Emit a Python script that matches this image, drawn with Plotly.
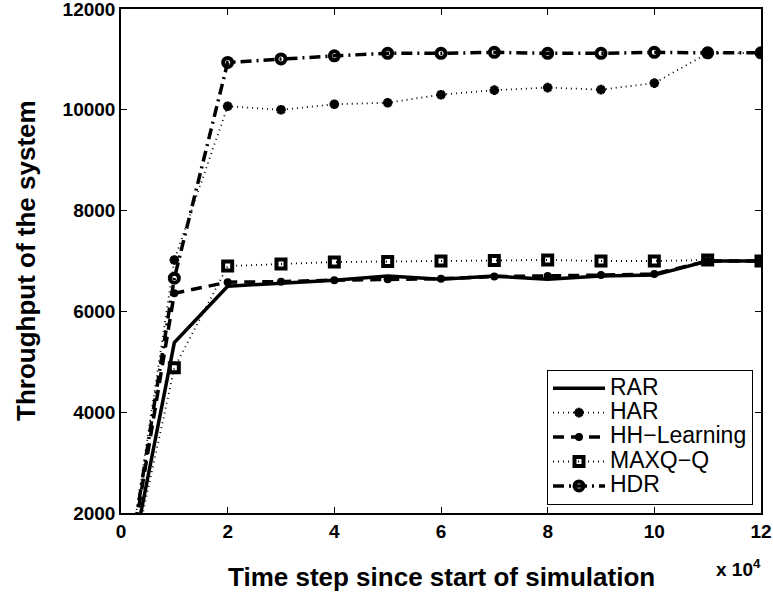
import plotly.graph_objects as go

x_steps = [0, 1, 2, 3, 4, 5, 6, 7, 8, 9, 10, 11, 12]
rar = [0, 5380, 6500, 6560, 6620, 6700, 6640, 6700, 6640, 6700, 6720, 7000, 7000]
har = [0, 7020, 10070, 10000, 10110, 10140, 10300, 10390, 10440, 10400, 10530, 11120, 11130]
hh = [0, 6360, 6580, 6590, 6620, 6640, 6650, 6690, 6700, 6720, 6740, 7000, 7000]
maxq = [0, 4880, 6900, 6940, 6980, 6990, 7000, 7010, 7020, 7000, 7000, 7020, 7000]
hdr = [0, 6660, 10940, 11010, 11070, 11120, 11120, 11140, 11120, 11120, 11140, 11130, 11130]

names = ["RAR", "HAR", "HH\u2212Learning", "MAXQ\u2212Q", "HDR"]
x_ticks = [0, 2, 4, 6, 8, 10, 12]
x_ticklabels = ["0", "2", "4", "6", "8", "10", "12"]
y_ticks = [2000, 4000, 6000, 8000, 10000, 12000]
y_ticklabels = ["2000", "4000", "6000", "8000", "10000", "12000"]

FONT = "Liberation Sans, Arial, Helvetica, sans-serif"


def legend_name(s):
    return '<span style="font-size:23px">' + s + "</span>"


fig = go.Figure()
fig.add_trace(go.Scatter(x=x_steps, y=rar, name=legend_name(names[0]), mode="lines",
                         line=dict(color="black", width=3.5, dash="solid")))
fig.add_trace(go.Scatter(x=x_steps, y=har, name=legend_name(names[1]), mode="lines+markers",
                         line=dict(color="black", width=1.8, dash="1px,4px"),
                         marker=dict(symbol="asterisk-open", size=8, color="black",
                                     line=dict(width=3, color="black"))))
fig.add_trace(go.Scatter(x=x_steps, y=hh, name=legend_name(names[2]), mode="lines+markers",
                         line=dict(color="black", width=3.5, dash="11px,7px"),
                         marker=dict(symbol="circle", size=8, color="black")))
fig.add_trace(go.Scatter(x=x_steps, y=maxq, name=legend_name(names[3]), mode="lines+markers",
                         line=dict(color="black", width=1.8, dash="1px,4px"),
                         marker=dict(symbol="square-open", size=9, color="black",
                                     line=dict(width=4, color="black"))))
fig.add_trace(go.Scatter(x=x_steps, y=hdr, name=legend_name(names[4]), mode="lines+markers",
                         line=dict(color="black", width=3.5, dash="11px,5px,2px,5px"),
                         marker=dict(symbol="circle-open", size=9, color="black",
                                     line=dict(width=4, color="black"))))

axis_common = dict(showline=True, linecolor="black", linewidth=1.5, mirror="ticks",
                   ticks="inside", ticklen=6, tickcolor="black", tickwidth=1,
                   showgrid=False, zeroline=False, ticklabeloverflow="allow",
                   automargin=False)

fig.update_xaxes(range=[0, 12], tickvals=x_ticks, ticktext=x_ticklabels,
                 tickfont=dict(family=FONT, size=19, color="black", weight="bold"),
                 **axis_common)
fig.update_yaxes(range=[2000, 12000], tickvals=y_ticks, ticktext=y_ticklabels,
                 tickfont=dict(family=FONT, size=19, color="black", weight="bold"),
                 **axis_common)

fig.add_annotation(xref="paper", yref="paper", x=0.5, y=0, yshift=-64,
                   xanchor="center", yanchor="middle", showarrow=False,
                   text="Time step since start of simulation",
                   font=dict(family=FONT, size=26, color="black", weight="bold"))
fig.add_annotation(xref="paper", yref="paper", x=0, y=0.5, xshift=-95,
                   xanchor="center", yanchor="middle", showarrow=False, textangle=-90,
                   text="Throughput of the system",
                   font=dict(family=FONT, size=26, color="black", weight="bold"))
fig.add_annotation(xref="paper", yref="paper", x=1.0, y=0, yshift=-55, xshift=-23,
                   xanchor="center", yanchor="middle", showarrow=False,
                   text="x 10<sup>4</sup>",
                   font=dict(family=FONT, size=19, color="black", weight="bold"))

fig.update_layout(
    width=773, height=592,
    margin=dict(l=121, r=12, t=9, b=79, autoexpand=False),
    plot_bgcolor="white", paper_bgcolor="white",
    legend=dict(x=0.9875, y=0.016, xanchor="right", yanchor="bottom",
                bordercolor="black", borderwidth=1, bgcolor="white",
                font=dict(family=FONT, size=16.5, color="black"),
                tracegroupgap=0, itemwidth=52),
    showlegend=True,
)

fig.write_html("out.html", config={"displayModeBar": False},
               post_script="document.body.style.margin='0';document.body.style.overflow='hidden';")
